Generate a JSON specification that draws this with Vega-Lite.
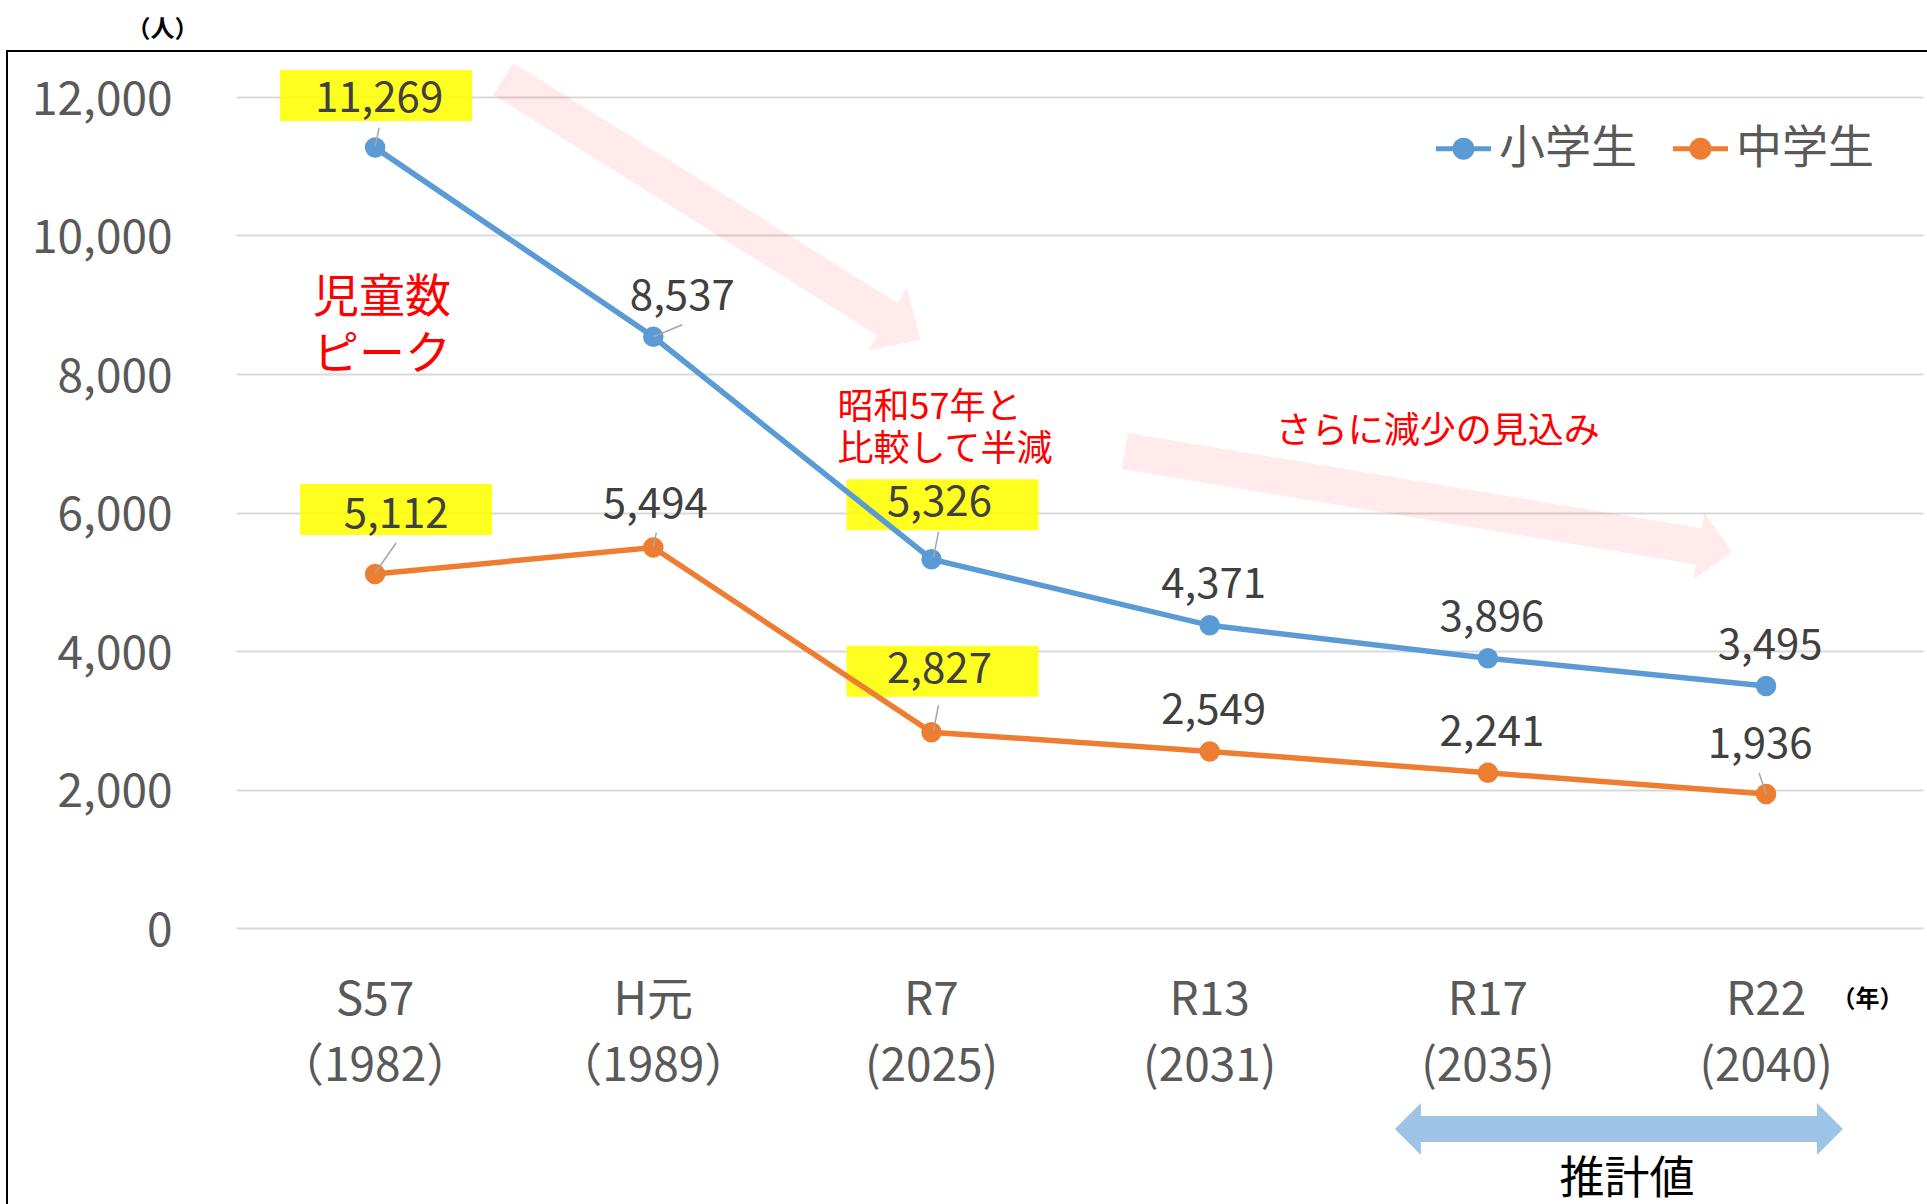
{
  "$schema": "https://vega.github.io/schema/vega-lite/v6.json",
  "width": 1926,
  "height": 1160,
  "autosize": {"type": "none"},
  "padding": {"left": 7, "top": 51, "right": -6, "bottom": -7},
  "background": "#ffffff",
  "config": {
    "font": "Noto Sans CJK JP",
    "view": {"stroke": "#000000", "strokeWidth": 2}
  },
  "data": {"values": [
    {"cat": "S57|（1982）", "series": "小学生", "value": 11269},
    {"cat": "H元|（1989）", "series": "小学生", "value": 8537},
    {"cat": "R7|(2025)", "series": "小学生", "value": 5326},
    {"cat": "R13|(2031)", "series": "小学生", "value": 4371},
    {"cat": "R17|(2035)", "series": "小学生", "value": 3896},
    {"cat": "R22|(2040)", "series": "小学生", "value": 3495},
    {"cat": "S57|（1982）", "series": "中学生", "value": 5112},
    {"cat": "H元|（1989）", "series": "中学生", "value": 5494},
    {"cat": "R7|(2025)", "series": "中学生", "value": 2827},
    {"cat": "R13|(2031)", "series": "中学生", "value": 2549},
    {"cat": "R17|(2035)", "series": "中学生", "value": 2241},
    {"cat": "R22|(2040)", "series": "中学生", "value": 1936}
  ]},
  "encoding": {
    "x": {
      "field": "cat", "type": "nominal",
      "scale": {"type": "band", "domain": ["S57|（1982）", "H元|（1989）", "R7|(2025)", "R13|(2031)", "R17|(2035)", "R22|(2040)"], "range": [229, 1916], "paddingInner": 0, "paddingOuter": 0.032, "align": 0},
      "axis": {
        "orient": "bottom", "offset": -283, "domain": false, "ticks": false, "grid": false,
        "labelExpr": "split(datum.label, '|')", "labelAngle": 0, "labelOverlap": false, "labelLimit": 0,
        "labelFontSize": 46, "labelColor": "#595959", "labelPadding": 50, "labelLineHeight": 66, "labelBaseline": "top",
        "title": "（年）", "titleX": 1860, "titleY": 71, "titleFontSize": 24, "titleFontWeight": "bold",
        "titleColor": "#000000", "titleAlign": "center", "titleBaseline": "middle", "titleAngle": 0
      }
    },
    "y": {
      "field": "value", "type": "quantitative",
      "scale": {"domain": [0, 12000], "range": [877, 46], "nice": false, "zero": false},
      "axis": {
        "values": [0, 2000, 4000, 6000, 8000, 10000, 12000], "format": ",.0f",
        "offset": -229, "domain": false, "ticks": false,
        "grid": true, "gridColor": "#d9d9d9", "gridWidth": 2,
        "labelFontSize": 46, "labelColor": "#595959", "labelPadding": 64, "labelOffset": 3,
        "title": "（人）", "titleAngle": 0, "titleX": -74, "titleY": -22, "titleFontSize": 24,
        "titleFontWeight": "bold", "titleColor": "#000000", "titleAlign": "center", "titleBaseline": "middle"
      }
    }
  },
  "layer": [
    {
      "data": {"values": [{"cat": "H元|（1989）", "value": 10000}]},
      "mark": {"type": "point", "shape": "M -139.9 -172.6 L 244.2 67.5 L 253.7 52.2 L 267.2 104.3 L 214.5 115 L 224 99.7 L -160.1 -140.4 Z", "size": 4, "filled": true, "color": "#ff0000", "opacity": 0.08, "strokeWidth": 0}
    },
    {
      "data": {"values": [{"cat": "R13|(2031)", "value": 6000}]},
      "mark": {"type": "point", "shape": "M -82 -79.5 L 492.1 15.8 L 494.7 0.3 L 522.7 39.4 L 483.5 67.3 L 486.1 51.9 L -88 -43.5 Z", "size": 4, "filled": true, "color": "#ff0000", "opacity": 0.08, "strokeWidth": 0}
    },
    {
      "data": {"values": [{"cat": "R17|(2035)", "value": 0}]},
      "mark": {"type": "point", "shape": "M -93 201 L -67 175 L -67 188 L 329 188 L 329 175 L 355 201 L 329 227 L 329 214 L -67 214 L -67 227 Z", "size": 4, "filled": true, "color": "#9dc3e6", "opacity": 1, "strokeWidth": 0}
    },
    {
      "transform": [{"filter": "datum.series == '小学生' && datum.cat == 'S57|（1982）'"}],
      "mark": {"type": "point", "shape": "M -95 -77.5 L 97 -77.5 L 97 -26.5 L -95 -26.5 Z", "size": 4, "filled": true, "color": "#ffff00", "opacity": 0.88, "strokeWidth": 0}
    },
    {
      "transform": [{"filter": "datum.series == '小学生' && datum.cat == 'R7|(2025)'"}],
      "mark": {"type": "point", "shape": "M -85 -80 L 107 -80 L 107 -29 L -85 -29 Z", "size": 4, "filled": true, "color": "#ffff00", "opacity": 0.88, "strokeWidth": 0}
    },
    {
      "transform": [{"filter": "datum.series == '中学生' && datum.cat == 'S57|（1982）'"}],
      "mark": {"type": "point", "shape": "M -75 -90 L 117 -90 L 117 -39 L -75 -39 Z", "size": 4, "filled": true, "color": "#ffff00", "opacity": 0.88, "strokeWidth": 0}
    },
    {
      "transform": [{"filter": "datum.series == '中学生' && datum.cat == 'R7|(2025)'"}],
      "mark": {"type": "point", "shape": "M -85 -86.5 L 107 -86.5 L 107 -35.5 L -85 -35.5 Z", "size": 4, "filled": true, "color": "#ffff00", "opacity": 0.88, "strokeWidth": 0}
    },
    {
      "mark": {"type": "line", "strokeWidth": 5.5, "point": {"filled": true, "size": 420, "opacity": 1}},
      "encoding": {
        "order": {"value": null},
        "color": {
          "field": "series", "type": "nominal",
          "scale": {"domain": ["小学生", "中学生"], "range": ["#5b9bd5", "#ed7d31"]},
          "legend": {
            "orient": "none", "legendX": 1429, "legendY": 70, "direction": "horizontal", "title": null,
            "symbolType": "M -1 -0.09 L 1 -0.09 L 1 0.09 L -1 0.09 Z M 0.4 0 A 0.4 0.4 0 1 1 -0.4 0 A 0.4 0.4 0 1 1 0.4 0 Z",
            "symbolSize": 3025, "symbolStrokeWidth": 0,
            "labelFontSize": 46, "labelColor": "#595959", "labelOffset": 8, "columnPadding": 36, "padding": 0,
            "encode": {"symbols": {"update": {"fill": {"scale": "color", "field": "value"}, "stroke": {"value": "transparent"}, "opacity": {"value": 1}}}}
          }
        }
      }
    },
    {
      "transform": [{"filter": "datum.series == '小学生' && datum.cat == 'S57|（1982）'"}],
      "mark": {"type": "point", "shape": "M 0 -1 L 4 -20", "size": 4, "filled": false, "stroke": "#a6a6a6", "strokeWidth": 1.5, "opacity": 1}
    },
    {
      "transform": [{"filter": "datum.series == '小学生' && datum.cat == 'H元|（1989）'"}],
      "mark": {"type": "point", "shape": "M 0 0 L 29 -12", "size": 4, "filled": false, "stroke": "#a6a6a6", "strokeWidth": 1.5, "opacity": 1}
    },
    {
      "transform": [{"filter": "datum.cat == 'R7|(2025)'"}],
      "mark": {"type": "point", "shape": "M 2 -2 L 7 -27", "size": 4, "filled": false, "stroke": "#a6a6a6", "strokeWidth": 1.5, "opacity": 1}
    },
    {
      "transform": [{"filter": "datum.series == '中学生' && datum.cat == 'S57|（1982）'"}],
      "mark": {"type": "point", "shape": "M 0 -1 L 21 -31", "size": 4, "filled": false, "stroke": "#a6a6a6", "strokeWidth": 1.5, "opacity": 1}
    },
    {
      "transform": [{"filter": "datum.series == '中学生' && datum.cat == 'H元|（1989）'"}],
      "mark": {"type": "point", "shape": "M 0 -1 L 3 -15", "size": 4, "filled": false, "stroke": "#a6a6a6", "strokeWidth": 1.5, "opacity": 1}
    },
    {
      "transform": [{"filter": "datum.series == '中学生' && datum.cat == 'R22|(2040)'"}],
      "mark": {"type": "point", "shape": "M 0 0 L -7 -21", "size": 4, "filled": false, "stroke": "#a6a6a6", "strokeWidth": 1.5, "opacity": 1}
    },
    {
      "transform": [{"filter": "!((datum.series == '小学生' && (datum.cat == 'S57|（1982）' || datum.cat == 'H元|（1989）' || datum.cat == 'R7|(2025)')) || (datum.series == '中学生' && (datum.cat == 'S57|（1982）' || datum.cat == 'H元|（1989）' || datum.cat == 'R7|(2025)' || datum.cat == 'R22|(2040)')))"}],
      "mark": {"type": "text", "fontSize": 42, "color": "#404040", "dx": 4, "dy": -40, "align": "center", "baseline": "middle"},
      "encoding": {"text": {"field": "value", "type": "quantitative", "format": ",.0f"}}
    },
    {
      "transform": [{"filter": "datum.series == '小学生' && datum.cat == 'S57|（1982）'"}],
      "mark": {"type": "text", "fontSize": 42, "color": "#404040", "dx": 4, "dy": -49, "align": "center", "baseline": "middle"},
      "encoding": {"text": {"field": "value", "type": "quantitative", "format": ",.0f"}}
    },
    {
      "transform": [{"filter": "datum.series == '小学生' && datum.cat == 'H元|（1989）'"}],
      "mark": {"type": "text", "fontSize": 42, "color": "#404040", "dx": 29, "dy": -40, "align": "center", "baseline": "middle"},
      "encoding": {"text": {"field": "value", "type": "quantitative", "format": ",.0f"}}
    },
    {
      "transform": [{"filter": "datum.series == '小学生' && datum.cat == 'R7|(2025)'"}],
      "mark": {"type": "text", "fontSize": 42, "color": "#404040", "dx": 8, "dy": -56, "align": "center", "baseline": "middle"},
      "encoding": {"text": {"field": "value", "type": "quantitative", "format": ",.0f"}}
    },
    {
      "transform": [{"filter": "datum.series == '中学生' && datum.cat == 'S57|（1982）'"}],
      "mark": {"type": "text", "fontSize": 42, "color": "#404040", "dx": 21, "dy": -59, "align": "center", "baseline": "middle"},
      "encoding": {"text": {"field": "value", "type": "quantitative", "format": ",.0f"}}
    },
    {
      "transform": [{"filter": "datum.series == '中学生' && datum.cat == 'H元|（1989）'"}],
      "mark": {"type": "text", "fontSize": 42, "color": "#404040", "dx": 2, "dy": -43, "align": "center", "baseline": "middle"},
      "encoding": {"text": {"field": "value", "type": "quantitative", "format": ",.0f"}}
    },
    {
      "transform": [{"filter": "datum.series == '中学生' && datum.cat == 'R7|(2025)'"}],
      "mark": {"type": "text", "fontSize": 42, "color": "#404040", "dx": 8, "dy": -62, "align": "center", "baseline": "middle"},
      "encoding": {"text": {"field": "value", "type": "quantitative", "format": ",.0f"}}
    },
    {
      "transform": [{"filter": "datum.series == '中学生' && datum.cat == 'R22|(2040)'"}],
      "mark": {"type": "text", "fontSize": 42, "color": "#404040", "dx": -6, "dy": -49, "align": "center", "baseline": "middle"},
      "encoding": {"text": {"field": "value", "type": "quantitative", "format": ",.0f"}}
    },
    {
      "data": {"values": [{"cat": "S57|（1982）", "value": 10000, "note": "児童数\nピーク"}]},
      "mark": {"type": "text", "fontSize": 46, "color": "#ff0000", "dx": -62, "dy": 40, "align": "left", "baseline": "top", "lineBreak": "\n", "lineHeight": 57},
      "encoding": {"text": {"field": "note", "type": "nominal"}}
    },
    {
      "data": {"values": [{"cat": "R7|(2025)", "value": 8000, "note": "昭和57年と\n比較して半減"}]},
      "mark": {"type": "text", "fontSize": 36, "color": "#ff0000", "dx": -94, "dy": 17, "align": "left", "baseline": "top", "lineBreak": "\n", "lineHeight": 42},
      "encoding": {"text": {"field": "note", "type": "nominal"}}
    },
    {
      "data": {"values": [{"cat": "R13|(2031)", "value": 8000, "note": "さらに減少の見込み"}]},
      "mark": {"type": "text", "fontSize": 36, "color": "#ff0000", "dx": 66, "dy": 41, "align": "left", "baseline": "top"},
      "encoding": {"text": {"field": "note", "type": "nominal"}}
    },
    {
      "data": {"values": [{"cat": "R17|(2035)", "value": 0, "note": "推計値"}]},
      "mark": {"type": "text", "fontSize": 45, "color": "#000000", "dx": 139, "dy": 252, "align": "center", "baseline": "middle"},
      "encoding": {"text": {"field": "note", "type": "nominal"}}
    }
  ]
}
